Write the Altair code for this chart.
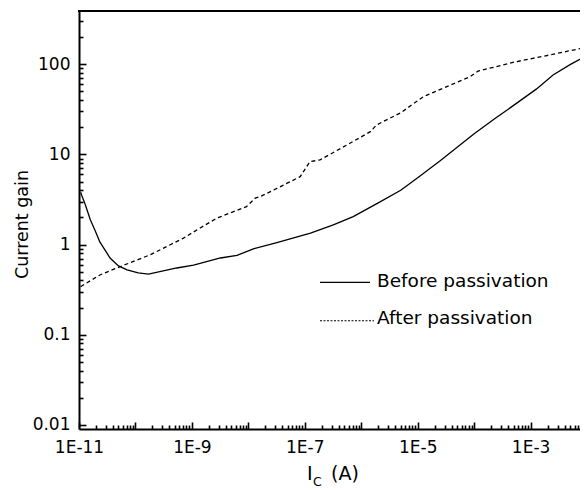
import altair as alt
import pandas as pd

# ---- data ----
ic_before = [1.07e-11, 1.12e-11, 1.26e-11, 1.38e-11, 1.58e-11, 1.91e-11, 2.34e-11, 3.55e-11,
             5.0e-11, 7.1e-11, 1.12e-10, 1.7e-10, 5.4e-10, 1.07e-9, 3.2e-9, 6.3e-9, 1.26e-8,
             3.2e-8, 1.26e-7, 3.2e-7, 7.2e-7, 2.0e-6, 5.0e-6, 1.0e-5, 2.5e-5, 5.0e-5, 1.0e-4,
             2.34e-4, 5.0e-4, 1.26e-3, 2.5e-3, 5.0e-3, 1.0e-2]
gain_before = [3.8, 3.5, 2.9, 2.45, 1.9, 1.45, 1.07, 0.71,
               0.58, 0.525, 0.485, 0.47, 0.55, 0.59, 0.71, 0.76, 0.9,
               1.05, 1.34, 1.65, 2.04, 2.9, 4.0, 5.5, 8.5, 12, 17,
               25, 35, 53, 76, 99, 126]

ic_after = [1.07e-11, 2.34e-11, 5.4e-11, 1.82e-10, 7.1e-10, 1.38e-9, 2.75e-9, 9.3e-9,
            1.32e-8, 1.62e-8, 3.2e-8, 8.3e-8, 1.23e-7, 1.86e-7, 6.3e-7, 1.45e-6,
            1.86e-6, 5.0e-6, 1.26e-5, 8.5e-5, 1.17e-4, 5.6e-4, 2.2e-3, 1.0e-2]
gain_after = [0.342, 0.46, 0.57, 0.77, 1.18, 1.52, 1.96, 2.64,
              3.27, 3.4, 4.2, 5.67, 8.3, 8.7, 13.3, 17.9,
              21.2, 29, 43.7, 73, 84, 107, 127, 155]

x_tick_exponents = [-11, -9, -7, -5, -3]     # labelled 1E-11 ... 1E-3
y_tick_values = [0.01, 0.1, 1, 10, 100]
legend_labels = ["Before passivation", "After passivation"]
x_title_parts = ["I", "C", "(A)"]
y_title = "Current gain"

x_domain = [1e-11, 7.5e-3]
y_domain = [0.009, 390]

# tick positions (axis structure): decades plus 2..9 minors
x_ticks_all = sorted([10.0 ** e for e in range(-11, -2)] +
                     [k * 10.0 ** e for e in range(-11, -3) for k in range(2, 10)] +
                     [k * 1e-3 for k in range(2, 8)])
y_ticks_all = sorted(y_tick_values +
                     [k * 10.0 ** e for e in range(-2, 2) for k in range(2, 10)] + [200, 300])

W, H = 501, 418
FONT = "DejaVu Sans"

xs = alt.Scale(type="log", domain=x_domain, nice=False)
ys = alt.Scale(type="log", domain=y_domain, nice=False)

before = pd.DataFrame({"ic": ic_before, "gain": gain_before})
after = pd.DataFrame({"ic": ic_after, "gain": gain_after})

LOGV = "(log(datum.value) / LN10)"
MAJOR = f"(abs({LOGV} - round({LOGV})) < 0.001)"
exps = "[" + ",".join(str(e) for e in x_tick_exponents) + "]"

x_axis = alt.Axis(values=x_ticks_all, grid=False, domainColor="black", domainWidth=2,
                  ticks=True, tickColor="black", tickWidth=1.6,
                  tickSize={"expr": f"{MAJOR} ? -7 : -4"},
                  labelExpr=f"{MAJOR} && indexof({exps}, round({LOGV})) >= 0 ? '1E' + round({LOGV}) : ''",
                  labelFont=FONT, labelFontSize=17, labelColor="black", labelPadding=17,
                  labelOverlap=False, labelFlush=False, title=None)
y_axis = alt.Axis(values=y_ticks_all, grid=False, domainColor="black", domainWidth=2,
                  ticks=True, tickColor="black", tickWidth=1.6,
                  tickSize={"expr": f"{MAJOR} ? -7 : -4"},
                  labelExpr=f"{MAJOR} ? format(datum.value, '.2~f') : ''",
                  labelFont=FONT, labelFontSize=17, labelColor="black", labelPadding=16,
                  labelOverlap=False, labelFlush=False,
                  title=y_title, titleFont=FONT, titleFontSize=17.5, titleFontWeight="normal",
                  titleColor="black", titleX=-57, titleY=213, titleAngle=270,
                  titleAlign="center", titleBaseline="middle")

line_before = alt.Chart(before).mark_line(color="black", strokeWidth=1.3).encode(
    x=alt.X("ic:Q", scale=xs, axis=x_axis),
    y=alt.Y("gain:Q", scale=ys, axis=y_axis),
)
line_after = alt.Chart(after).mark_line(color="black", strokeWidth=1.3, strokeDash=[4, 3]).encode(
    x=alt.X("ic:Q", scale=xs, axis=x_axis),
    y=alt.Y("gain:Q", scale=ys, axis=y_axis),
)

one = pd.DataFrame({"a": [0]})
top_line = alt.Chart(one).mark_rule(color="black", strokeWidth=2).encode(
    x=alt.value(-1), x2=alt.value(W + 2), y=alt.value(0))

# legend
leg_solid = alt.Chart(one).mark_rule(color="black", strokeWidth=1.3).encode(
    x=alt.value(241), x2=alt.value(291), y=alt.value(271.3))
leg_dot = alt.Chart(one).mark_rule(color="black", strokeWidth=1.1, strokeDash=[2, 1.5]).encode(
    x=alt.value(241), x2=alt.value(295), y=alt.value(309.7))
leg_t1 = alt.Chart(pd.DataFrame({"t": [legend_labels[0]]})).mark_text(
    font=FONT, fontSize=18.5, align="left", baseline="alphabetic", color="black").encode(
    text="t:N", x=alt.value(298), y=alt.value(276))
leg_t2 = alt.Chart(pd.DataFrame({"t": [legend_labels[1]]})).mark_text(
    font=FONT, fontSize=18.5, align="left", baseline="alphabetic", color="black").encode(
    text="t:N", x=alt.value(298), y=alt.value(313))

# x title with subscript
xt_I = alt.Chart(pd.DataFrame({"t": [x_title_parts[0]]})).mark_text(
    font=FONT, fontSize=19, align="left", baseline="alphabetic", color="black").encode(
    text="t:N", x=alt.value(228), y=alt.value(469))
xt_C = alt.Chart(pd.DataFrame({"t": [x_title_parts[1]]})).mark_text(
    font=FONT, fontSize=12.5, align="left", baseline="alphabetic", color="black").encode(
    text="t:N", x=alt.value(234), y=alt.value(475))
xt_A = alt.Chart(pd.DataFrame({"t": [x_title_parts[2]]})).mark_text(
    font=FONT, fontSize=19, align="left", baseline="alphabetic", color="black").encode(
    text="t:N", x=alt.value(252), y=alt.value(469))

chart = alt.layer(
    line_before, line_after, top_line, leg_solid, leg_dot, leg_t1, leg_t2,
    xt_I, xt_C, xt_A,
).properties(
    width=W, height=H,
    autosize=alt.AutoSizeParams(type="none"),
    padding={"left": 71, "top": 3, "right": 0, "bottom": 61},
).configure_view(stroke=None)

chart.save("out.html", embed_options={"renderer": "svg", "actions": False})
